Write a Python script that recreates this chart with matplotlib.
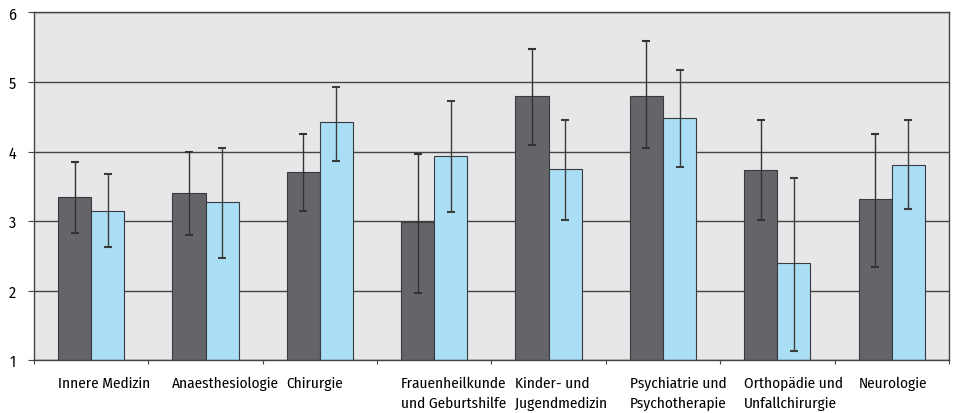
import numpy as np
import matplotlib.pyplot as plt

categories = ['Innere Medizin', 'Anaesthesiologie', 'Chirurgie',
              'Frauenheilkunde\nund Geburtshilfe', 'Kinder- und\nJugendmedizin',
              'Psychiatrie und\nPsychotherapie', 'Orthopädie und\nUnfallchirurgie',
              'Neurologie']
dark_vals = [3.35, 3.40, 3.70, 2.98, 4.80, 4.80, 3.74, 3.32]
dark_lo = [2.83, 2.80, 3.15, 1.96, 4.10, 4.05, 3.02, 2.34]
dark_hi = [3.85, 4.00, 4.25, 3.96, 5.47, 5.59, 4.46, 4.25]
blue_vals = [3.15, 3.27, 4.42, 3.93, 3.75, 4.48, 2.39, 3.81]
blue_lo = [2.63, 2.47, 3.87, 3.13, 3.02, 3.78, 1.13, 3.17]
blue_hi = [3.67, 4.05, 4.93, 4.73, 4.46, 5.17, 3.62, 4.46]

plt.rcParams['font.family'] = ['Fira Sans Condensed', 'DejaVu Sans']

fig = plt.figure(figsize=(9.57, 4.14), dpi=100)
ax = fig.add_axes([0.0355, 0.128, 0.956, 0.8394])
ax.set_facecolor('#e6e7e9')

x = np.arange(len(categories))
w = 0.29
dv = np.array(dark_vals); bv = np.array(blue_vals)
ax.bar(x - w/2, dv - 1, w, bottom=1, color='#646568', edgecolor='#3a3a3c', lw=0.8, zorder=2)
ax.bar(x + w/2, bv - 1, w, bottom=1, color='#a9def5', edgecolor='#3a3a3c', lw=0.8, zorder=2)
ax.errorbar(x - w/2, dv, yerr=[dv - np.array(dark_lo), np.array(dark_hi) - dv],
            fmt='none', ecolor='#333333', elinewidth=1, capsize=3, capthick=1.5, zorder=3)
ax.errorbar(x + w/2, bv, yerr=[bv - np.array(blue_lo), np.array(blue_hi) - bv],
            fmt='none', ecolor='#3c3c3c', elinewidth=1, capsize=3, capthick=1.5, zorder=3)

ax.set_xlim(-0.5, len(categories) - 0.5)
ax.set_ylim(1, 6)
ax.set_yticks([1, 2, 3, 4, 5, 6])
ax.yaxis.grid(True, color='#444444', lw=1)
ax.set_axisbelow(True)
for s in ax.spines.values():
    s.set_color('#444444')
    s.set_linewidth(1)

ax.set_xticks(np.arange(len(categories) + 1) - 0.5)
ax.set_xticklabels([])
ax.tick_params(axis='x', length=3, color='#444444')
ax.tick_params(axis='y', length=4, color='#444444', labelsize=11.5, pad=9)

for i, c in enumerate(categories):
    ax.text(i - w, 0.77, c, ha='left', va='top', fontsize=11,
            transform=ax.transData, linespacing=1.45)

fig.savefig('out.png', dpi=100)
